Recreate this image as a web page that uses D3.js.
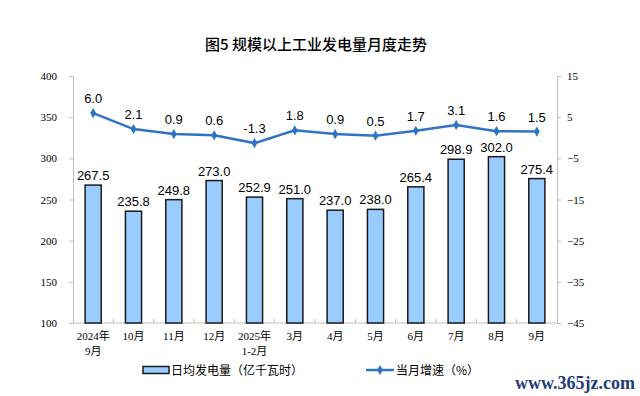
<!DOCTYPE html>
<html lang="zh">
<head>
<meta charset="utf-8">
<title>规模以上工业发电量月度走势</title>
<script src="https://d3js.org/d3.v7.min.js"></script>
<style>
  body { margin: 0; background: #fff; }
  svg text { fill: #000; }
</style>
</head>
<body>
<script>
// data
var months = ["2024年\n9月", "10月", "11月", "12月", "2025年\n1-2月", "3月", "4月", "5月", "6月", "7月", "8月", "9月"];
var dailyOutput = [267.5, 235.8, 249.8, 273.0, 252.9, 251.0, 237.0, 238.0, 265.4, 298.9, 302.0, 275.4];
var growth = [6.0, 2.1, 0.9, 0.6, -1.3, 1.8, 0.9, 0.5, 1.7, 3.1, 1.6, 1.5];
var leftTicks = [100, 150, 200, 250, 300, 350, 400];
var rightTicks = [-45, -35, -25, -15, -5, 5, 15];

var w = 640, h = 396;
var margin = { top: 76, right: 83, bottom: 73, left: 73 };

var svg = d3.select("body").append("svg")
  .attr("width", w)
  .attr("height", h);

var x = d3.scaleBand()
  .domain(months)
  .range([margin.left, w - margin.right])
  .paddingInner(0.6)
  .paddingOuter(0.3);

var yL = d3.scaleLinear().domain([100, 400]).range([h - margin.bottom, margin.top]);
var yR = d3.scaleLinear().domain([-45, 15]).range([h - margin.bottom, margin.top]);

var serif = "'Liberation Serif', 'Noto Sans CJK SC', serif";
var sans = "'Liberation Sans', Arial, sans-serif";

// title
svg.append("text")
  .attr("x", 316)
  .attr("y", 50)
  .attr("text-anchor", "middle")
  .style("font-family", "'Noto Sans CJK SC', sans-serif")
  .style("font-size", "15px")
  .style("font-weight", 500)
  .text("图5  规模以上工业发电量月度走势");

// left and right axes
var axL = svg.append("g")
  .attr("transform", "translate(" + margin.left + ",0)")
  .call(d3.axisLeft(yL).tickValues(leftTicks).tickSize(4).tickPadding(12));
var axR = svg.append("g")
  .attr("transform", "translate(" + (w - margin.right) + ",0)")
  .call(d3.axisRight(yR).tickValues(rightTicks).tickSize(4).tickPadding(6));

[axL, axR].forEach(function (g) {
  g.select(".domain").attr("stroke", "#bfbfbf");
  g.selectAll(".tick line").attr("stroke", "#bfbfbf");
  g.selectAll(".tick text")
    .style("font-family", serif)
    .style("font-size", "11px")
    .attr("fill", "#000");
});

// bottom axis line
var base = h - margin.bottom;
svg.append("line")
  .attr("x1", margin.left).attr("x2", w - margin.right)
  .attr("y1", base).attr("y2", base)
  .attr("stroke", "#bfbfbf");

// category separator ticks
var gap = (x.step() - x.bandwidth()) / 2;
svg.selectAll(".ctick")
  .data(months.slice(1))
  .enter().append("line")
  .attr("x1", function (d) { return x(d) - gap; })
  .attr("x2", function (d) { return x(d) - gap; })
  .attr("y1", base).attr("y2", base - 4)
  .attr("stroke", "#bfbfbf");

// category labels
var labels = svg.selectAll(".cat")
  .data(months)
  .enter().append("text")
  .attr("text-anchor", "middle")
  .attr("transform", function (d) { return "translate(" + (x(d) + x.bandwidth() / 2) + "," + (base + 17) + ")"; })
  .style("font-family", serif)
  .style("font-size", "11px");
labels.selectAll("tspan")
  .data(function (d) { return d.split("\n"); })
  .enter().append("tspan")
  .attr("x", 0)
  .attr("dy", function (d, i) { return i === 0 ? 0 : 15; })
  .text(function (d) { return d; });

// bars
svg.selectAll(".bar")
  .data(dailyOutput)
  .enter().append("rect")
  .attr("x", function (d, i) { return x(months[i]); })
  .attr("y", function (d) { return yL(d); })
  .attr("width", x.bandwidth())
  .attr("height", function (d) { return base - yL(d); })
  .attr("fill", "#99ccff")
  .attr("stroke", "#1a1a1a")
  .attr("stroke-width", 1.5);

svg.selectAll(".barlab")
  .data(dailyOutput)
  .enter().append("text")
  .attr("x", function (d, i) { return x(months[i]) + x.bandwidth() / 2; })
  .attr("y", function (d) { return yL(d) - 5; })
  .attr("text-anchor", "middle")
  .style("font-family", sans)
  .style("font-size", "13px")
  .text(function (d) { return d.toFixed(1); });

// growth line
var line = d3.line()
  .x(function (d, i) { return x(months[i]) + x.bandwidth() / 2; })
  .y(function (d) { return yR(d); });

svg.append("path")
  .datum(growth)
  .attr("d", line)
  .attr("fill", "none")
  .attr("stroke", "#2f74c4")
  .attr("stroke-width", 2.5);

var diamond = d3.symbol().type(d3.symbolDiamond).size(30);
svg.selectAll(".pt")
  .data(growth)
  .enter().append("path")
  .attr("d", diamond)
  .attr("transform", function (d, i) { return "translate(" + (x(months[i]) + x.bandwidth() / 2) + "," + yR(d) + ")"; })
  .attr("fill", "#2f74c4");

svg.selectAll(".ptlab")
  .data(growth)
  .enter().append("text")
  .attr("x", function (d, i) { return x(months[i]) + x.bandwidth() / 2; })
  .attr("y", function (d) { return yR(d) - 10; })
  .attr("text-anchor", "middle")
  .style("font-family", sans)
  .style("font-size", "13px")
  .text(function (d) { return d.toFixed(1); });

// legend
var lg = svg.append("g").attr("transform", "translate(0,370)");
lg.append("rect")
  .attr("x", 143).attr("y", -3.5)
  .attr("width", 26).attr("height", 7)
  .attr("fill", "#99ccff")
  .attr("stroke", "#1a1a1a")
  .attr("stroke-width", 1.5);
lg.append("text")
  .attr("x", 171).attr("y", 4.5)
  .style("font-family", "'Noto Sans CJK SC', sans-serif")
  .style("font-size", "12px")
  .text("日均发电量（亿千瓦时）");
lg.append("line")
  .attr("x1", 366).attr("x2", 394)
  .attr("y1", 0).attr("y2", 0)
  .attr("stroke", "#2f74c4")
  .attr("stroke-width", 2.5);
lg.append("path")
  .attr("d", diamond)
  .attr("transform", "translate(380,0)")
  .attr("fill", "#2f74c4");
lg.append("text")
  .attr("x", 396).attr("y", 4.5)
  .style("font-family", "'Noto Sans CJK SC', sans-serif")
  .style("font-size", "12px")
  .text("当月增速（%）");

// watermark
svg.append("text")
  .attr("x", 635).attr("y", 389)
  .attr("text-anchor", "end")
  .style("font-family", serif)
  .style("font-size", "18px")
  .style("font-weight", "bold")
  .style("fill", "#1f3c7a")
  .text("www.365jz.com");
</script>
</body>
</html>
